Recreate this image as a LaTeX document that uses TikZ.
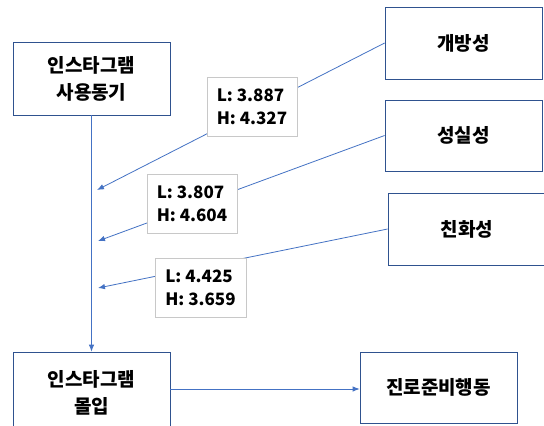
\documentclass[tikz,border=0pt]{standalone}
\usepackage{fontspec}
\setmainfont{Noto Sans CJK KR}
\usetikzlibrary{arrows.meta}
\definecolor{lineblue}{HTML}{4472C4}
\definecolor{boxedge}{HTML}{2F528F}
\definecolor{labeledge}{HTML}{C8C8C8}
\begin{document}
\begin{tikzpicture}[x=1pt,y=-1pt,
  mainbox/.style={draw=boxedge,line width=0.8pt,fill=white,minimum width=157pt,align=center,inner sep=0pt,font=\fontsize{19}{27}\selectfont\bfseries},
  lbox/.style={draw=labeledge,line width=0.8pt,fill=white,minimum height=59pt,align=left,inner sep=0pt,font=\fontsize{17}{23}\selectfont\bfseries},
  conn/.style={draw=lineblue,line width=0.8pt},
  arr/.style={conn,-{Latex[length=7pt,width=5.5pt]}}]
\useasboundingbox (0,0) rectangle (544,426);
\clip (0,0) rectangle (544,426);
\fill[white] (0,0) rectangle (544,426);
\node[mainbox,minimum height=73pt] (motive) at (91.5,78.5) {인스타그램\\사용동기};
\node[mainbox,minimum height=82pt] (flow) at (91.5,393) {인스타그램\\몰입};
\node[mainbox,minimum height=72pt] (open) at (463.5,43) {개방성};
\node[mainbox,minimum height=71pt] (cons) at (463.5,135.5) {성실성};
\node[mainbox,minimum height=72pt,minimum width=158pt] (agree) at (467,229) {친화성};
\node[mainbox,minimum height=71pt] (career) at (438.5,387.5) {진로준비행동};
\coordinate (t1) at (97,190);
\coordinate (t2) at (98,241);
\coordinate (t3) at (98,288);
\draw[arr] (motive.south) -- (flow.north);
\draw[arr] (flow.east |- 0,389) -- (career.west |- 0,389);
\draw[arr] (open.west) -- (t1);
\draw[arr] (cons.west) -- (t2);
\draw[arr] (agree.west) -- (t3);
\node[lbox,minimum width=90pt] (l1) at (252,106.5) {L: 3.887\\H: 4.327};
\node[lbox,minimum width=90pt] (l2) at (192,203.5) {L: 3.807\\H: 4.604};
\node[lbox,minimum width=91pt] (l3) at (200.5,287.5) {L: 4.425\\H: 3.659};
\end{tikzpicture}
\end{document}
